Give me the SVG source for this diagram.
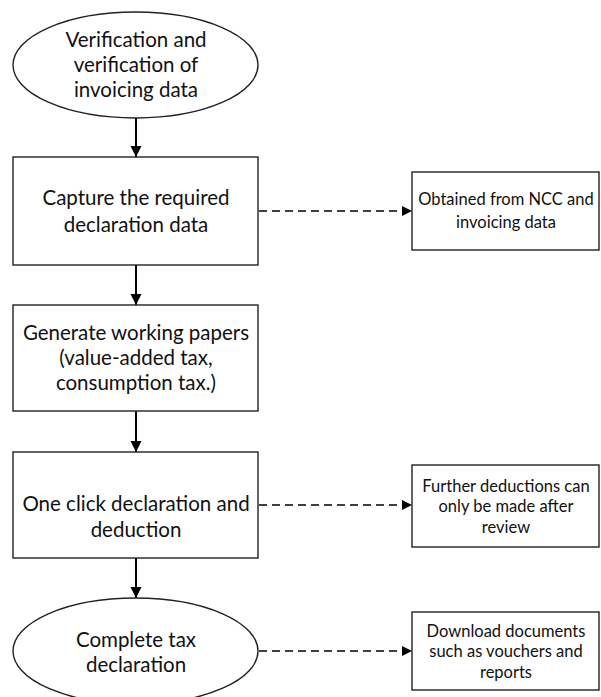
<svg xmlns="http://www.w3.org/2000/svg" width="601" height="697" viewBox="0 0 601 697">
<defs>
<marker id="ah" markerWidth="12" markerHeight="12" refX="11" refY="6" orient="auto" markerUnits="userSpaceOnUse">
<path d="M0,0.5 L11,6 L0,11.5 Z" fill="#000"/>
</marker>
<marker id="ahd" markerWidth="12" markerHeight="12" refX="10" refY="5.5" orient="auto" markerUnits="userSpaceOnUse">
<path d="M0,0.5 L10,5.5 L0,10.5 Z" fill="#000"/>
</marker>
</defs>
<style>
.shape{fill:#fff;stroke:#222;stroke-width:1.4}
.t{font-family:Lato,"Liberation Sans",sans-serif;font-size:20.5px;fill:#111;text-anchor:middle}
.s{font-family:Lato,"Liberation Sans",sans-serif;font-size:16.5px;fill:#111;text-anchor:middle}
.solid{stroke:#000;stroke-width:2;fill:none;marker-end:url(#ah)}
.dash{stroke:#000;stroke-width:1.6;fill:none;stroke-dasharray:8 5;marker-end:url(#ahd)}
</style>
<rect width="601" height="697" fill="#fff"/>
<g id="connectors">
<line class="solid" x1="136" y1="118" x2="136" y2="157"/>
<line class="solid" x1="136" y1="265" x2="136" y2="305"/>
<line class="solid" x1="136" y1="411" x2="136" y2="452"/>
<line class="solid" x1="136" y1="558" x2="136" y2="598"/>
<line class="dash" x1="259" y1="211" x2="412" y2="211"/>
<line class="dash" x1="259" y1="505" x2="412" y2="505"/>
<line class="dash" x1="259" y1="651" x2="412" y2="651"/>
</g>
<g id="n1">
<ellipse class="shape" cx="135.5" cy="65" rx="122.5" ry="53"/>
<text class="t" x="136" y="47">Verification and</text>
<text class="t" x="136" y="72">verification of</text>
<text class="t" x="136" y="97">invoicing data</text>
</g>
<g id="n2">
<rect class="shape" x="13" y="157" width="245" height="108"/>
<text class="t" x="136" y="205">Capture the required</text>
<text class="t" x="136" y="232">declaration data</text>
</g>
<g id="n3">
<rect class="shape" x="13" y="305" width="245" height="106"/>
<text class="t" x="136" y="340">Generate working papers</text>
<text class="t" x="136" y="365">(value-added tax,</text>
<text class="t" x="136" y="390">consumption tax.)</text>
</g>
<g id="n4">
<rect class="shape" x="13" y="452" width="245" height="106"/>
<text class="t" x="136" y="511">One click declaration and</text>
<text class="t" x="136" y="537">deduction</text>
</g>
<g id="n5">
<ellipse class="shape" cx="135.5" cy="651" rx="122.5" ry="53"/>
<text class="t" x="136" y="647">Complete tax</text>
<text class="t" x="136" y="672">declaration</text>
</g>
<g id="r1">
<rect class="shape" x="412" y="172" width="187" height="78"/>
<text class="s" x="506" y="205">Obtained from NCC and</text>
<text class="s" x="506" y="228">invoicing data</text>
</g>
<g id="r2">
<rect class="shape" x="412" y="465" width="187" height="82"/>
<text class="s" x="506" y="492">Further deductions can</text>
<text class="s" x="506" y="512">only be made after</text>
<text class="s" x="506" y="533">review</text>
</g>
<g id="r3">
<rect class="shape" x="412" y="612" width="187" height="78"/>
<text class="s" x="506" y="637">Download documents</text>
<text class="s" x="506" y="657">such as vouchers and</text>
<text class="s" x="506" y="678">reports</text>
</g>
</svg>
